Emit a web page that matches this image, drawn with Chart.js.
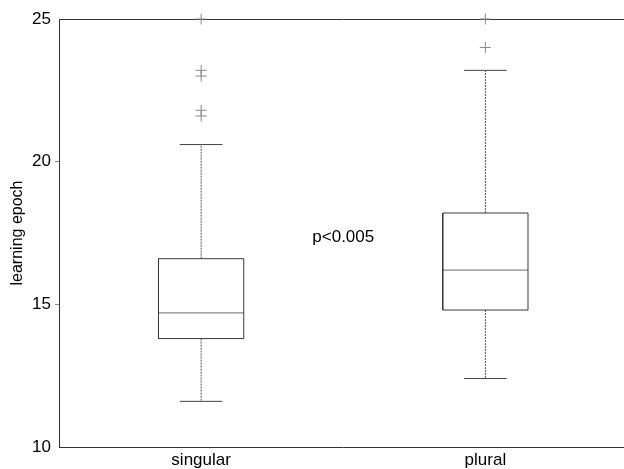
<!DOCTYPE html>
<html><head><meta charset="utf-8">
<script src="https://cdn.jsdelivr.net/npm/chart.js@4/dist/chart.umd.min.js"></script>
<style>
html,body{margin:0;padding:0;background:#fff;overflow:hidden;}
#wrap{width:634px;height:469px;position:relative;}
canvas{display:block;}
</style></head><body>
<div id="wrap"><canvas id="c" width="634" height="469"></canvas></div>
<script>
// ---- data ----
const categories = ['singular', 'plural'];
const lowerWhisker = [11.6, 12.4];
const q1 = [13.8, 14.8];
const median = [14.7, 16.2];
const q3 = [16.6, 18.2];
const upperWhisker = [20.6, 23.2];
const outliers = [[21.6, 21.8, 23.0, 23.2, 25], [24.0, 25]];
const yTicks = [10, 15, 20, 25];
const pLabel = 'p<0.005';
const pLabelPos = [1.5, 17.35];

// ---- build datasets from the arrays ----
const BOX_HALF = 0.15, CAP_HALF = 0.075;
const pos = categories.map((_, i) => i + 1);
const brk = (x) => ({x: x, y: null});
const boxPts = [], medPts = [], whiskPts = [], capPts = [], outPts = [];
pos.forEach((x, i) => {
  boxPts.push({x: x - BOX_HALF, y: q1[i]}, {x: x + BOX_HALF, y: q1[i]},
              {x: x + BOX_HALF, y: q3[i]}, {x: x - BOX_HALF, y: q3[i]},
              {x: x - BOX_HALF, y: q1[i]}, brk(x));
  medPts.push({x: x - BOX_HALF, y: median[i]}, {x: x + BOX_HALF, y: median[i]}, brk(x));
  whiskPts.push({x: x, y: q3[i]}, {x: x, y: upperWhisker[i]}, brk(x),
                {x: x, y: q1[i]}, {x: x, y: lowerWhisker[i]}, brk(x));
  capPts.push({x: x - CAP_HALF, y: upperWhisker[i]}, {x: x + CAP_HALF, y: upperWhisker[i]}, brk(x),
              {x: x - CAP_HALF, y: lowerWhisker[i]}, {x: x + CAP_HALF, y: lowerWhisker[i]}, brk(x));
  outliers[i].forEach(v => outPts.push({x: x, y: v}));
});

const lineDs = (data, color, dash) => ({
  type: 'line', data, borderColor: color, borderWidth: 1, borderDash: dash || [],
  pointRadius: 0, tension: 0, fill: false, spanGaps: false
});

const FONT = '"Liberation Sans", Arial, sans-serif';
Chart.defaults.font.family = FONT;
Chart.defaults.color = '#000';

const pAnnot = {
  id: 'pAnnot',
  afterDatasetsDraw(chart) {
    const {ctx, scales: {x, y}} = chart;
    ctx.save();
    ctx.font = '17px ' + FONT;
    ctx.fillStyle = '#000';
    ctx.textAlign = 'center';
    ctx.textBaseline = 'middle';
    ctx.fillText(pLabel, x.getPixelForValue(pLabelPos[0]), y.getPixelForValue(pLabelPos[1]));
    ctx.restore();
  }
};

new Chart(document.getElementById('c'), {
  data: {
    datasets: [
      lineDs(boxPts, '#3a3a3a'),
      lineDs(medPts, '#6a6a6a'),
      lineDs(whiskPts, '#555', [2, 1]),
      lineDs(capPts, '#444'),
      {type: 'scatter', data: outPts, pointStyle: 'cross', pointRadius: 5.5,
       borderColor: '#8a8a8a', backgroundColor: '#8a8a8a', pointBorderWidth: 1, clip: false}
    ]
  },
  options: {
    responsive: false,
    animation: false,
    devicePixelRatio: 1,
    layout: {padding: {left: 0, right: 4, top: 0, bottom: 0}},
    plugins: {legend: {display: false}, tooltip: {enabled: false}},
    scales: {
      x: {
        type: 'linear', position: 'bottom', min: 0.5, max: 2.5,
        afterBuildTicks: (s) => { s.ticks = pos.map(v => ({value: v})); },
        afterFit: (s) => { s.height = 22; },
        ticks: {
          autoSkip: false, maxRotation: 0, padding: 3,
          font: {size: 17}, color: '#000',
          callback: (v) => categories[v - 1] || ''
        },
        grid: {display: true, drawOnChartArea: false, drawTicks: false},
        border: {display: true, color: '#333', width: 1}
      },
      x2: {
        type: 'linear', position: 'top', min: 0.5, max: 2.5,
        afterFit: (s) => { s.height = 19; },
        ticks: {display: false},
        grid: {display: true, drawOnChartArea: false, drawTicks: false},
        border: {display: true, color: '#333', width: 1}
      },
      y: {
        type: 'linear', position: 'left', min: 10, max: 25,
        afterBuildTicks: (s) => { s.ticks = yTicks.map(v => ({value: v})); },
        afterFit: (s) => { s.width = 59; },
        ticks: {font: {size: 17}, color: '#000', padding: 4},
        grid: {
          display: true, drawOnChartArea: false, drawTicks: true, tickLength: 4,
          color: (ctx) => (ctx.tick && (ctx.tick.value === 15 || ctx.tick.value === 20)) ? '#888' : 'rgba(0,0,0,0)'
        },
        border: {display: true, color: '#333', width: 1},
        title: {display: true, text: 'learning epoch', font: {size: 16}, color: '#000', padding: {top: 8, bottom: 4}}
      }
    }
  },
  plugins: [pAnnot]
});
</script>
</body></html>
